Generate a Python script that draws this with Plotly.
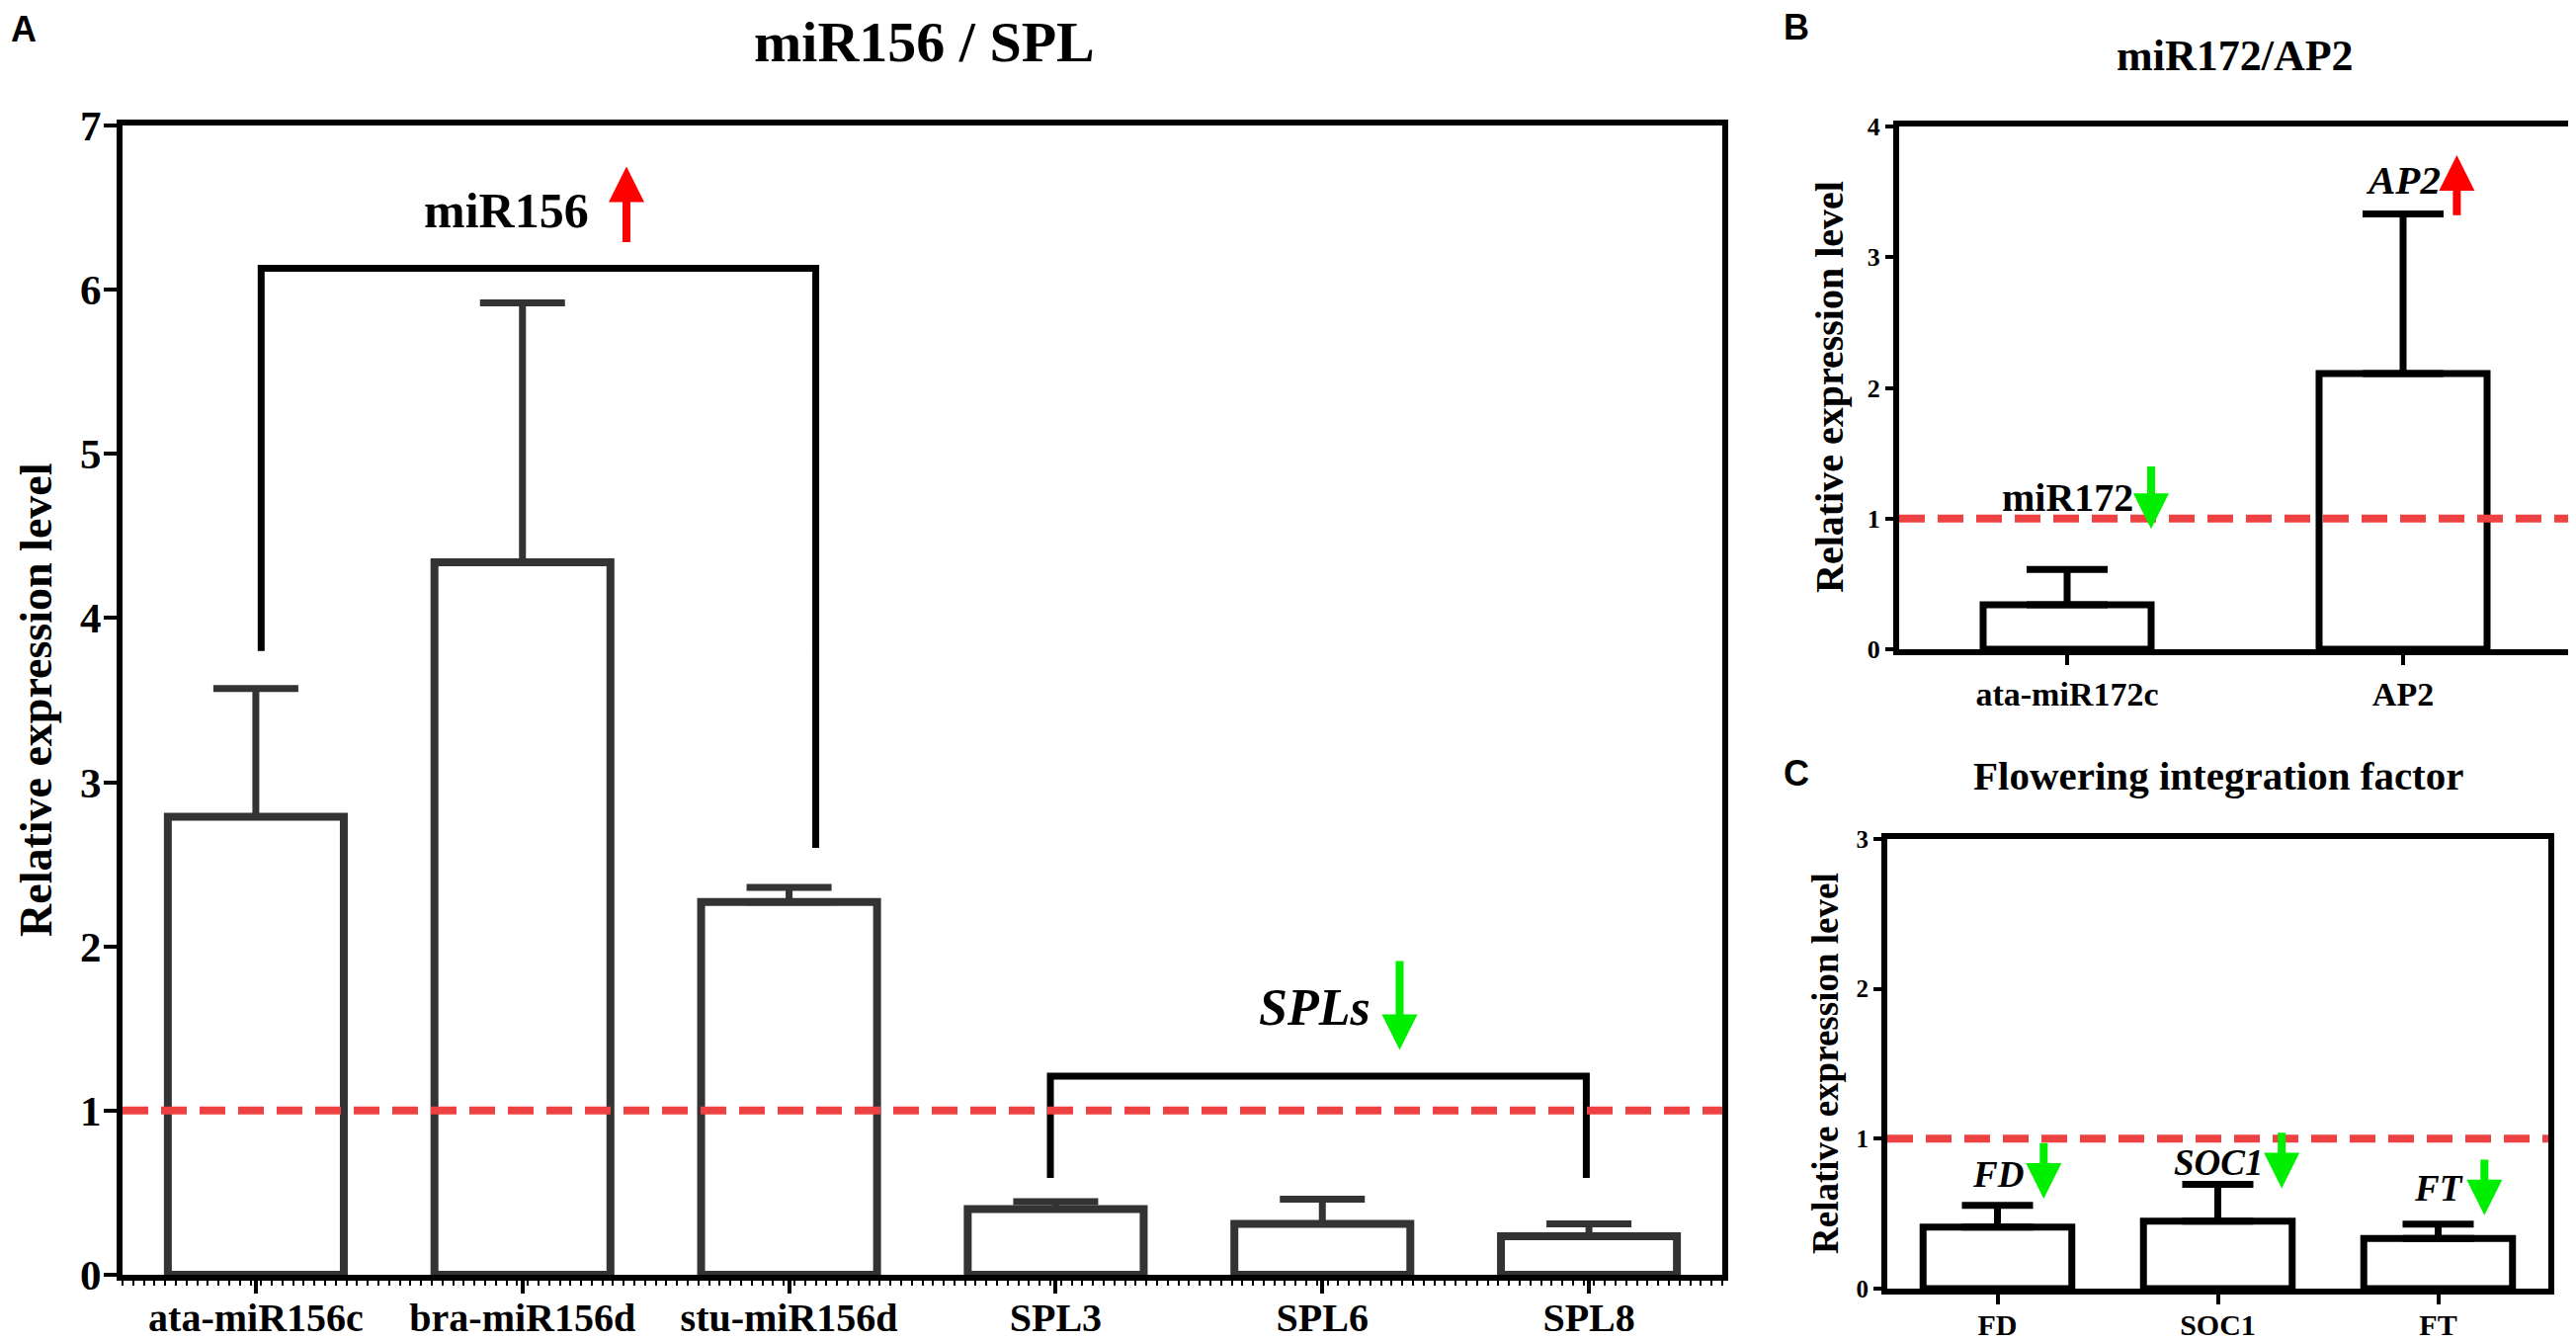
import plotly.graph_objects as go

# panel A : miR156 / SPL
a_cats = ["ata-miR156c", "bra-miR156d", "stu-miR156d", "SPL3", "SPL6", "SPL8"]
a_mean = [2.79, 4.34, 2.27, 0.40, 0.31, 0.235]
a_upper = [3.57, 5.92, 2.36, 0.445, 0.46, 0.31]

# panel B : miR172 / AP2
b_cats = ["ata-miR172c", "AP2"]
b_mean = [0.34, 2.11]
b_upper = [0.61, 3.33]

# panel C : flowering integration factor
c_cats = ["FD", "SOC1", "FT"]
c_mean = [0.41, 0.45, 0.335]
c_upper = [0.555, 0.695, 0.43]

# brackets in panel A : (x left, x right, top, left leg end, right leg end)
brackets = [(0.02, 2.1, 6.13, 3.8, 2.6), (2.98, 4.99, 1.21, 0.59, 0.59)]

# arrows : (axis, x, tail y, tip y, colour)
RED = "#ff0000"
GREEN = "#00ee00"
arrows = [
    ("", 1.39, 6.28, 6.75, RED),
    ("", 4.29, 1.92, 1.37, GREEN),
    ("2", 0.25, 1.41, 0.92, GREEN),
    ("2", 1.16, 3.31, 3.78, RED),
    ("3", 0.21, 0.98, 0.60, GREEN),
    ("3", 1.29, 1.05, 0.67, GREEN),
    ("3", 2.21, 0.87, 0.49, GREEN),
]

# labels : (axis, x, y, text, size, italic)
labels = [
    ("", 0.94, 6.48, "miR156", 50, False),
    ("", 3.97, 1.63, "SPLs", 52, True),
    ("2", 0.0, 1.16, "miR172", 40, False),
    ("2", 1.0, 3.59, "AP2", 41, True),
    ("3", 0.0, 0.76, "FD", 37, True),
    ("3", 1.0, 0.84, "SOC1", 37, True),
    ("3", 2.0, 0.67, "FT", 37, True),
]

Y_TITLE = "Relative expression level"

SERIF = "Liberation Serif"
DASH_RED = "#ee4242"

# the page body adds an 8px margin, so the figure is a bit smaller
W, H, OFF = 2607, 1356, 8
FW, FH = W - OFF, H - OFF


def px(x):
    return (x - OFF) / FW


def py(y):
    return 1 - (y - OFF) / FH


def bar_trace(cats, mean, upper, ax, colour, width, cap, lw):
    xs = list(range(len(cats)))
    return go.Bar(
        x=xs, y=mean, width=width,
        marker=dict(color="white", line=dict(color=colour, width=lw)),
        error_y=dict(type="data", symmetric=False,
                     array=[u - m for u, m in zip(upper, mean)],
                     arrayminus=[0] * len(mean),
                     color=colour, thickness=7, width=cap),
        xaxis="x" + ax, yaxis="y" + ax, showlegend=False,
    )


fig = go.Figure()
fig.add_trace(bar_trace(a_cats, a_mean, a_upper, "", "#333333", 0.66, 43, 8))
fig.add_trace(bar_trace(b_cats, b_mean, b_upper, "2", "black", 0.5, 41, 7))
fig.add_trace(bar_trace(c_cats, c_mean, c_upper, "3", "black", 0.675, 36, 7))

for x0, x1, top, l0, l1 in brackets:
    fig.add_trace(go.Scatter(
        x=[x0, x0, x1, x1], y=[l0, top, top, l1], mode="lines",
        line=dict(color="black", width=7), showlegend=False,
        xaxis="x", yaxis="y"))

# reference line at 1
for ax in ["", "2", "3"]:
    fig.add_shape(type="line", xref="x" + ax + " domain", yref="y" + ax,
                  x0=0, x1=1, y0=1, y1=1,
                  line=dict(color=DASH_RED, width=8, dash="26px,13px"))

for ax, x, tail, tip, col in arrows:
    fig.add_annotation(
        xref="x" + ax, yref="y" + ax, axref="x" + ax, ayref="y" + ax,
        x=x, y=tip, ax=x, ay=tail, text="", showarrow=True,
        arrowhead=2, arrowsize=0.9, arrowwidth=8, arrowcolor=col, standoff=0)

for ax, x, y, txt, size, ital in labels:
    fig.add_annotation(
        xref="x" + ax, yref="y" + ax, x=x, y=y, text=txt, showarrow=False,
        xanchor="center", yanchor="middle",
        font=dict(family=SERIF, size=size, color="black", weight="bold",
                  style="italic" if ital else "normal"))

titles = [
    (935, 43, "miR156 / SPL", 58),
    (2262, 56, "miR172/AP2", 44),
    (2245, 785, "Flowering integration factor", 41),
]
for x, y, txt, size in titles:
    fig.add_annotation(xref="paper", yref="paper", x=px(x), y=py(y), text=txt,
                       showarrow=False, xanchor="center", yanchor="middle",
                       font=dict(family=SERIF, size=size, color="black", weight="bold"))

# y axis titles (rotated)
for x, y, size in [(36, 708, 46), (1851, 392, 40), (1847, 1076, 37)]:
    fig.add_annotation(xref="paper", yref="paper", x=px(x), y=py(y), text=Y_TITLE,
                       textangle=-90, showarrow=False, xanchor="center", yanchor="middle",
                       font=dict(family=SERIF, size=size, color="black", weight="bold"))

for x, y, txt in [(24, 30, "A"), (1818, 28, "B"), (1818, 782, "C")]:
    fig.add_annotation(xref="paper", yref="paper", x=px(x), y=py(y), text=txt,
                       showarrow=False, xanchor="center", yanchor="middle",
                       font=dict(family="Liberation Sans", size=36, color="black", weight="bold"))


def xaxis(left, right, cats, size, ticklen, lift, minor=False):
    d = dict(domain=[px(left), px(right)], range=[-0.5, len(cats) - 0.5],
             automargin=False, ticklabelstandoff=-lift,
             tickvals=list(range(len(cats))), ticktext=cats,
             ticks="outside", ticklen=ticklen, tickwidth=4, tickcolor="black",
             showline=True, linewidth=6, linecolor="black", mirror=True,
             showgrid=False, zeroline=False,
             tickfont=dict(family=SERIF, size=size, color="black", weight="bold"))
    if minor:
        d["minor"] = dict(ticks="outside", ticklen=5, tickwidth=2,
                          tickcolor="black", dtick=0.04, tick0=-0.5, showgrid=False)
    return d


def yaxis(top_px, bottom_px, top, size, ticklen, shift=0):
    return dict(domain=[py(bottom_px), py(top_px)], range=[0, top], dtick=1,
                automargin=False, ticklabelstandoff=-shift,
                ticks="outside", ticklen=ticklen, tickwidth=4, tickcolor="black",
                showline=True, linewidth=6, linecolor="black", mirror=True,
                showgrid=False, zeroline=False,
                tickfont=dict(family=SERIF, size=size, color="black", weight="bold"))


fig.update_layout(
    width=FW, height=FH,
    margin=dict(l=0, r=0, t=0, b=0),
    paper_bgcolor="white", plot_bgcolor="white",
    xaxis=xaxis(124, 1743, a_cats, 40, 13, 10, minor=True),
    yaxis=yaxis(127, 1290, 7, 43, 13, shift=6),
    xaxis2=dict(xaxis(1922, 2602, b_cats, 34, 10, 0), anchor="y2"),
    yaxis2=dict(yaxis(128, 657, 4, 26, 8), anchor="x2"),
    xaxis3=dict(xaxis(1910, 2579, c_cats, 30, 10, 5), anchor="y3"),
    yaxis3=dict(yaxis(849, 1304, 3, 25, 8), anchor="x3"),
)

fig.write_html("out.html")
